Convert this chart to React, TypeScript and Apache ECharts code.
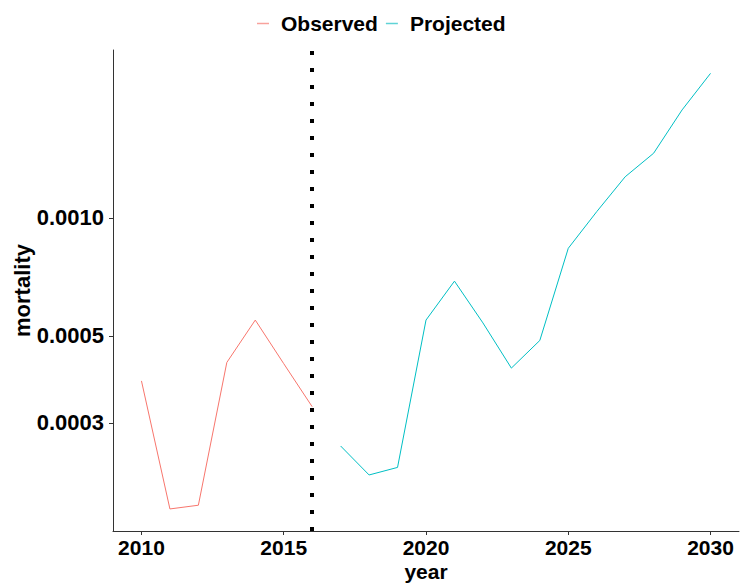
import React, { useEffect, useRef } from "react";
import * as echarts from "echarts";

const observedYears = [2010, 2011, 2012, 2013, 2014, 2015, 2016];
const observedValues = [0.000384, 0.000181, 0.000185, 0.000428, 0.000549, 0.000425, 0.00033];
const projectedYears = [2017, 2018, 2019, 2020, 2021, 2022, 2023, 2024, 2025, 2026, 2027, 2028, 2029, 2030];
const projectedValues = [0.000262, 0.000221, 0.000231, 0.000549, 0.00069, 0.00054, 0.000414, 0.000487, 0.000837, 0.001038, 0.001274, 0.001463, 0.001887, 0.002339];
const xTicks = [2010, 2015, 2020, 2025, 2030];
const yTicks = [0.0003, 0.0005, 0.001];
const cutoffYear = 2016;

const FONT = "'Liberation Sans', Arial, sans-serif";

export default function App() {
  const ref = useRef<HTMLDivElement>(null);
  useEffect(() => {
    if (!ref.current) return;
    const chart = echarts.init(ref.current, null, { renderer: "svg" });
    const pair = (xs: number[], ys: number[]) => xs.map((x, i) => [x, ys[i]]);
    chart.setOption({
      animation: false,
      backgroundColor: "#fff",
      textStyle: { fontFamily: FONT },
      legend: {
        left: 252,
        top: 8,
        itemWidth: 12,
        itemHeight: 1.5,
        itemGap: 8,
        icon: "rect",
        textStyle: { fontFamily: FONT, fontWeight: "bold", fontSize: 21, color: "#000", padding: [0, 0, 0, 7] },
        data: [
          { name: "Observed", itemStyle: { color: "#F8A29C" } },
          { name: "Projected", itemStyle: { color: "#5FD3D6" } },
        ],
      },
      grid: { left: 113, top: 50, right: 1, bottom: 54, containLabel: false, outerBoundsMode: "none" },
      xAxis: {
        type: "value",
        min: 2009,
        max: 2031,
        name: "year",
        nameLocation: "middle",
        nameGap: 30,
        nameMoveOverlap: false,
        nameTextStyle: { fontFamily: FONT, fontWeight: "bold", fontSize: 21, color: "#000" },
        axisLine: { show: true, lineStyle: { color: "#333", width: 1 } },
        axisTick: { show: true, length: 4, lineStyle: { color: "#333" }, customValues: xTicks },
        axisLabel: {
          customValues: xTicks,
          margin: 6,
          fontFamily: FONT,
          fontWeight: "bold",
          fontSize: 21,
          color: "#000",
          formatter: (v: number) => String(v),
        },
        splitLine: { show: false },
      },
      yAxis: {
        type: "log",
        logBase: 10,
        min: 0.000159,
        max: 0.002683,
        name: "mortality",
        nameLocation: "middle",
        nameGap: 80,
        nameMoveOverlap: false,
        nameTextStyle: { fontFamily: FONT, fontWeight: "bold", fontSize: 22, color: "#000" },
        axisLine: { show: true, lineStyle: { color: "#333", width: 1 } },
        axisTick: { show: true, length: 4, lineStyle: { color: "#333" }, customValues: yTicks },
        axisLabel: {
          customValues: yTicks,
          margin: 9,
          fontFamily: FONT,
          fontWeight: "bold",
          fontSize: 22,
          color: "#000",
          formatter: (v: number) => v.toFixed(4),
        },
        splitLine: { show: false },
        minorTick: { show: false },
        minorSplitLine: { show: false },
      },
      series: [
        {
          name: "Observed",
          type: "line",
          data: pair(observedYears, observedValues),
          showSymbol: false,
          symbol: "none",
          lineStyle: { color: "#F8766D", width: 1 },
          itemStyle: { color: "#F8766D" },
          markLine: {
            silent: true,
            symbol: "none",
            label: { show: false },
            lineStyle: { color: "#000", width: 4, type: [4, 13] },
            data: [{ xAxis: cutoffYear }],
          },
        },
        {
          name: "Projected",
          type: "line",
          data: pair(projectedYears, projectedValues),
          showSymbol: false,
          symbol: "none",
          lineStyle: { color: "#00BFC4", width: 1 },
          itemStyle: { color: "#00BFC4" },
        },
      ],
    });
    return () => chart.dispose();
  }, []);
  return <div ref={ref} style={{ width: 740, height: 585, position: "absolute", left: 0, top: 0 }} />;
}
